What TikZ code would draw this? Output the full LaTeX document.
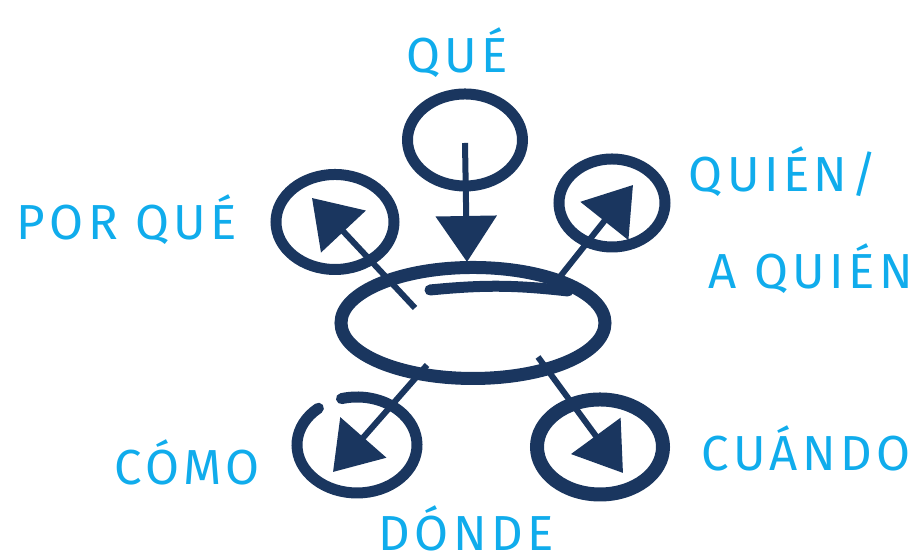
\documentclass[tikz,border=0pt]{standalone}
\usepackage{fontspec}
\setmainfont{Fira Sans}
\usepackage{tikz}
\usetikzlibrary{arrows.meta, positioning, shapes.geometric}
\usepackage{xcolor}
\definecolor{navy}{HTML}{1A365F}
\definecolor{cyanlabel}{HTML}{10ACEC}

\begin{document}
\begin{tikzpicture}[
ring/.style={draw=navy,
ellipse,
line width=0.11cm,
inner sep=0pt},
arrow/.style={-{Triangle[length=0.46cm, width=0.60cm]}, draw=navy, fill=navy, line width=0.06cm},
label/.style={text=cyanlabel,
font=\addfontfeatures{LetterSpace=9}\fontsize{14}{16}\selectfont,
inner sep=1pt,
align=center}
]
\useasboundingbox (0,0) rectangle (9.23,5.58);

% circles
\node[ring, line width=0.13cm, minimum width=2.64cm, minimum height=1.11cm] (centro) at (4.73,2.35) {};
\node[ring, minimum width=1.15cm, minimum height=0.92cm] (que) at (4.65,4.18) {};
\node[ring, minimum width=1.18cm, minimum height=0.95cm] (porque) at (3.35,3.36) {};
\node[ring, minimum width=1.06cm, minimum height=0.88cm] (quien) at (6.12,3.55) {};
\node[ellipse, inner sep=0pt, minimum width=1.20cm, minimum height=0.96cm] (como) at (3.57,1.13) {};
\node[ring, line width=0.14cm, minimum width=1.26cm, minimum height=0.95cm] (cuando) at (6.00,1.11) {};

% bottom left ring is open at the top
\draw[navy, line width=0.11cm, line cap=round]
  ([shift={(130:0.60 and 0.48)}]como.center) arc[start angle=130, end angle=465, x radius=0.60cm, y radius=0.48cm];

% second stroke on top of the centre
\draw[navy, line width=0.11cm, line cap=round] (4.30,2.68) to[bend left=6] (5.68,2.67);

% arrow ends
\coordinate (a0) at (4.65,4.15);
\coordinate (b0) at (4.67,2.96);
\coordinate (a1) at (4.15,2.50);
\coordinate (b1) at (3.12,3.60);
\coordinate (a2) at (5.55,2.75);
\coordinate (b2) at (6.33,3.73);
\coordinate (a3) at (4.27,1.93);
\coordinate (b3) at (3.33,0.86);
\coordinate (a4) at (5.38,2.01);
\coordinate (b4) at (6.23,0.85);

\draw[arrow] (a0) -- (b0);
\draw[arrow] (a1) -- (b1);
\draw[arrow] (a2) -- (b2);
\draw[arrow] (a3) -- (b3);
\draw[arrow] (a4) -- (b4);

% labels
\node[label] (tque) at (4.57,5.05) {QUÉ};
\node[label] (tporque) at (1.27,3.38) {POR QUÉ};
\node[label] (tquien) at (7.83,3.86) {QUIÉN/};
\node[label] (taquien) at (8.11,2.89) {A QUIÉN};
\node[label] (tcomo) at (1.87,0.96) {CÓMO};
\node[label] (tdonde) at (4.66,0.30) {DÓNDE};
\node[label] (tcuando) at (8.06,1.10) {CUÁNDO};

\end{tikzpicture}
\end{document}
